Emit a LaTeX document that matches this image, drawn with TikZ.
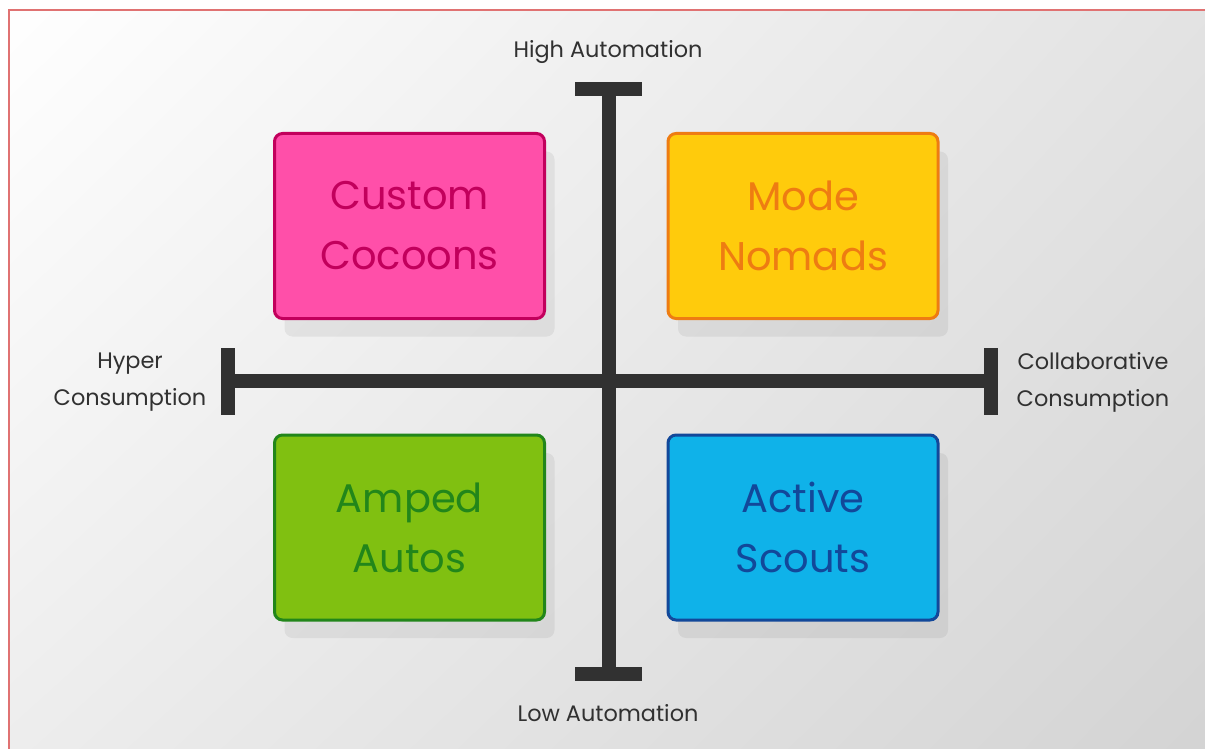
\documentclass[tikz,border=0pt]{standalone}
\usepackage{fontspec}
\setmainfont{Poppins}
\usepackage{tikz}
\usetikzlibrary{calc,shadows,shadings}

\definecolor{framered}{HTML}{E07272}
\definecolor{axisgray}{HTML}{313131}
\definecolor{pinkfill}{HTML}{FF4FA9}
\definecolor{pinkline}{HTML}{C2005C}
\definecolor{yellowfill}{HTML}{FFCB0C}
\definecolor{yellowline}{HTML}{EE7C12}
\definecolor{greenfill}{HTML}{80C011}
\definecolor{greenline}{HTML}{22861A}
\definecolor{bluefill}{HTML}{0FB2E9}
\definecolor{blueline}{HTML}{12489A}

\tikzset{
  quadbox/.style={rectangle,rounded corners=4pt,line width=1.5pt,
    minimum width=135pt,minimum height=92.5pt,align=center,
    font=\fontsize{20}{30}\selectfont,
    drop shadow={shadow xshift=5pt,shadow yshift=-9pt,fill=black,opacity=0.06}},
  axisbar/.style={draw=axisgray,line width=7pt},
  axislabel/.style={align=center,text=axisgray,font=\fontsize{11.2}{18.5}\selectfont}
}

\begin{document}
\begin{tikzpicture}[x=0.5pt,y=-0.5pt]
                                     \useasboundingbox (0,0) rectangle (1205,749);
                                     \shade[upper left=white,upper right=black!11,lower left=black!7,lower right=black!17] (0,0) rectangle (1205,749);
                                     \fill[white] (0,0) rectangle (1205,10);
                                     \fill[white] (0,0) rectangle (8,749);
                                     \draw[framered,line width=1pt] (8.5,749) -- (8.5,10.5) -- (1205,10.5);
                                     % axes
                                     \coordinate (hi) at (608.5,89.5);
                                     \coordinate (lo) at (608.5,674);
                                     \coordinate (hyper) at (228,381);
                                     \coordinate (collab) at (990.5,381);
                                     \draw[axisbar] (hi) -- (lo);
                                     \draw[axisbar] (hyper) -- (collab);
                                     \draw[axisbar] ([xshift=-16.75pt]hi) -- ([xshift=16.75pt]hi);
                                     \draw[axisbar] ([xshift=-16.75pt]lo) -- ([xshift=16.75pt]lo);
                                     \draw[axisbar] ([yshift=-16.75pt]hyper) -- ([yshift=16.75pt]hyper);
                                     \draw[axisbar] ([yshift=-16.75pt]collab) -- ([yshift=16.75pt]collab);
                                     \node[axislabel](high)at(608,52){High Automation};
                                     \node[axislabel](low)at(608,713){Low Automation};
                                     \node[axislabel](hypercons)at(130,382){Hyper\\Consumption};
                                     \node[axislabel](collabcons)at(1093,382){Collaborative\\Consumption};
                                     % quadrants
                                     \node[quadbox,fill=pinkfill,draw=pinkline,text=pinkline](cocoons)at(409.5,226){Custom\\Cocoons};
                                     \node[quadbox,fill=yellowfill,draw=yellowline,text=yellowline](nomads)at(803,226){Mode\\Nomads};
                                     \node[quadbox,fill=greenfill,draw=greenline,text=greenline](autos)at(409.5,527.5){Amped\\Autos};
                                     \node[quadbox,fill=bluefill,draw=blueline,text=blueline](scouts)at(803,527.5){Active\\Scouts};
                                 \end{tikzpicture}
\end{document}
